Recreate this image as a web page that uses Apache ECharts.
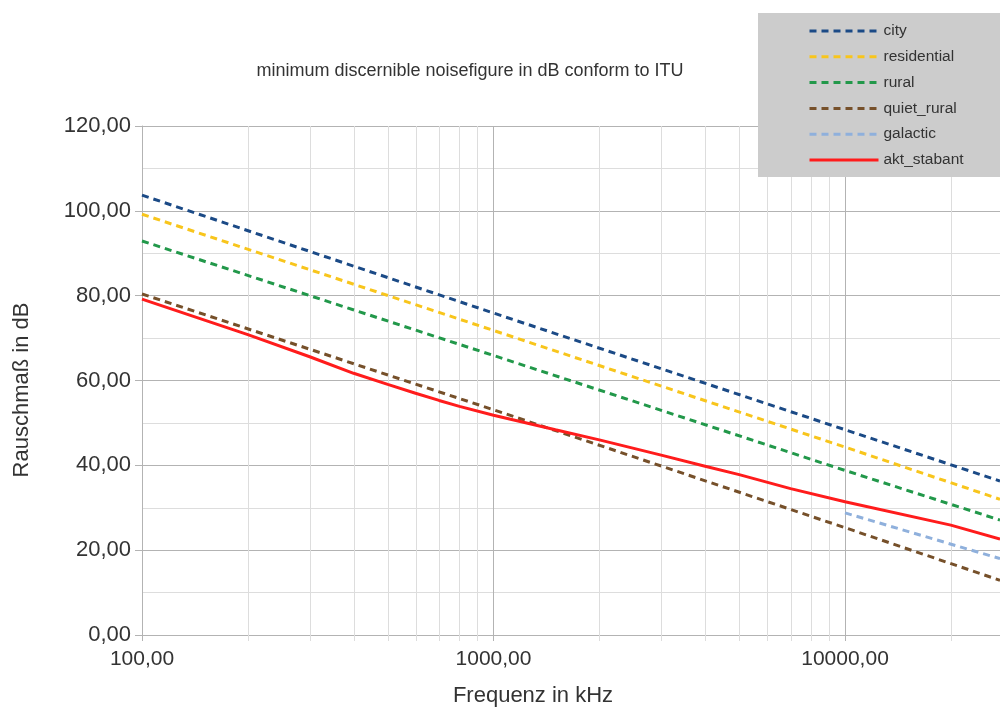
<!DOCTYPE html>
<html>
<head>
<meta charset="utf-8">
<title>noisefigure</title>
<script src="https://cdn.jsdelivr.net/npm/echarts@6/dist/echarts.min.js"></script>
<style>
	html, body { margin: 0; padding: 0; background: #fff; }
	#main { width: 1000px; height: 718px; }
</style>
</head>
<body>
<div id="main"></div>
<script>
	// frequencies in kHz (right edge of the visible plot ~27600 kHz)
	var freqLine = [100, 1000, 10000, 27600];
	var city = [103.7, 75.9, 48.4, 36.3];
	var residential = [99.2, 71.8, 44.3, 32.0];
	var rural = [92.9, 65.9, 38.8, 27.1];
	var quietRural = [80.4, 53.1, 25.3, 12.9];

	var freqGalactic = [10000, 27600];
	var galactic = [28.8, 18.0];

	var freqStabant = [100, 200, 300, 400, 500, 600, 700, 800, 1000, 1500, 2000, 3000, 4000, 5000, 7000, 10000, 20000, 27600];
	var stabant = [79.2, 70.8, 65.6, 61.7, 59.1, 57.0, 55.3, 53.9, 51.8, 48.4, 46.0, 42.4, 39.8, 37.8, 34.5, 31.4, 25.9, 22.6];

	var minorFreq = [200, 300, 400, 500, 600, 700, 800, 900,
		2000, 3000, 4000, 5000, 6000, 7000, 8000, 9000, 20000];

	var seriesNames = ['city', 'residential', 'rural', 'quiet_rural', 'galactic', 'akt_stabant'];
	var colors = ['#1b4a86', '#f8c51c', '#22984a', '#76502a', '#8fb0dc', '#ff1c1c'];

	function pairs(xs, ys) {
		return xs.map(function (x, i) { return [x, ys[i]]; });
	}
	function fmt(v) {
		return Number(v).toFixed(2).replace('.', ',');
	}
	function dashed(name, xs, ys, color) {
		return {
			name: name,
			type: 'line',
			symbol: 'none',
			z: 3,
			data: pairs(xs, ys),
			lineStyle: { color: color, width: 3, type: [7, 5] },
			itemStyle: { color: color }
		};
	}

	var myChart = echarts.init(document.getElementById('main'));
	var option = {
		animation: false,
		textStyle: { fontFamily: 'Liberation Sans, Arial, sans-serif' },
		grid: { left: 142, right: 0, top: 126, bottom: 83 },
		legend: {
			data: seriesNames,
			orient: 'vertical',
			left: 758,
			top: 13,
			backgroundColor: '#cccccc',
			padding: [10, 60, 9, 50],
			itemWidth: 69,
			itemHeight: 14,
			itemGap: 9.8,
			itemStyle: { opacity: 0 },
			lineStyle: { width: 3 },
			textStyle: { fontSize: 15.5, color: '#333' }
		},
		graphic: [
			{
				type: 'text', x: 470, y: 71,
				style: { text: 'minimum discernible noisefigure in dB conform to ITU', font: '18px Liberation Sans', fill: '#333', textAlign: 'center', textVerticalAlign: 'middle' }
			},
			{
				type: 'text', x: 533, y: 696,
				style: { text: 'Frequenz in kHz', font: '22px Liberation Sans', fill: '#333', textAlign: 'center', textVerticalAlign: 'middle' }
			},
			{
				type: 'text', x: 22, y: 390, rotation: Math.PI / 2,
				style: { text: 'Rauschmaß in dB', font: '22px Liberation Sans', fill: '#333', textAlign: 'center', textVerticalAlign: 'middle' }
			}
		],
		xAxis: {
			type: 'log',
			logBase: 10,
			min: 100,
			max: 27600,
			axisLine: { show: true, lineStyle: { color: '#b3b3b3' } },
			axisTick: { show: true, length: 6, lineStyle: { color: '#b3b3b3' } },
			axisLabel: { fontSize: 21, color: '#333', margin: 14, showMaxLabel: false, formatter: fmt },
			splitLine: { show: true, lineStyle: { color: '#b3b3b3' } }
		},
		yAxis: {
			type: 'value',
			min: 0,
			max: 120,
			interval: 20,
			axisLine: { show: true, lineStyle: { color: '#b3b3b3' } },
			axisTick: { show: true, length: 7, lineStyle: { color: '#b3b3b3' } },
			axisLabel: { fontSize: 22, color: '#333', margin: 11, formatter: fmt },
			splitLine: { show: true, lineStyle: { color: '#b3b3b3' } },
			minorTick: { show: false, splitNumber: 2 },
			minorSplitLine: { show: true, lineStyle: { color: '#dddddd' } }
		},
		series: [
			{
				// minor vertical grid lines of the log axis
				type: 'custom',
				silent: true,
				clip: false,
				z: 1,
				data: minorFreq.map(function (f) { return [f, 0]; }),
				renderItem: function (params, api) {
					var top = api.coord([api.value(0), 120]);
					var bot = api.coord([api.value(0), 0]);
					var x = Math.round(top[0]) + 0.5;
					return {
						type: 'line',
						shape: { x1: x, y1: top[1], x2: x, y2: bot[1] + 6 },
						style: { stroke: '#dddddd', lineWidth: 1 }
					};
				}
			},
			dashed('city', freqLine, city, colors[0]),
			dashed('residential', freqLine, residential, colors[1]),
			dashed('rural', freqLine, rural, colors[2]),
			dashed('quiet_rural', freqLine, quietRural, colors[3]),
			dashed('galactic', freqGalactic, galactic, colors[4]),
			{
				name: 'akt_stabant',
				type: 'line',
				symbol: 'none',
				z: 4,
				data: pairs(freqStabant, stabant),
				lineStyle: { color: colors[5], width: 3 },
				itemStyle: { color: colors[5] }
			}
		]
	};
	myChart.setOption(option);
</script>
</body>
</html>
